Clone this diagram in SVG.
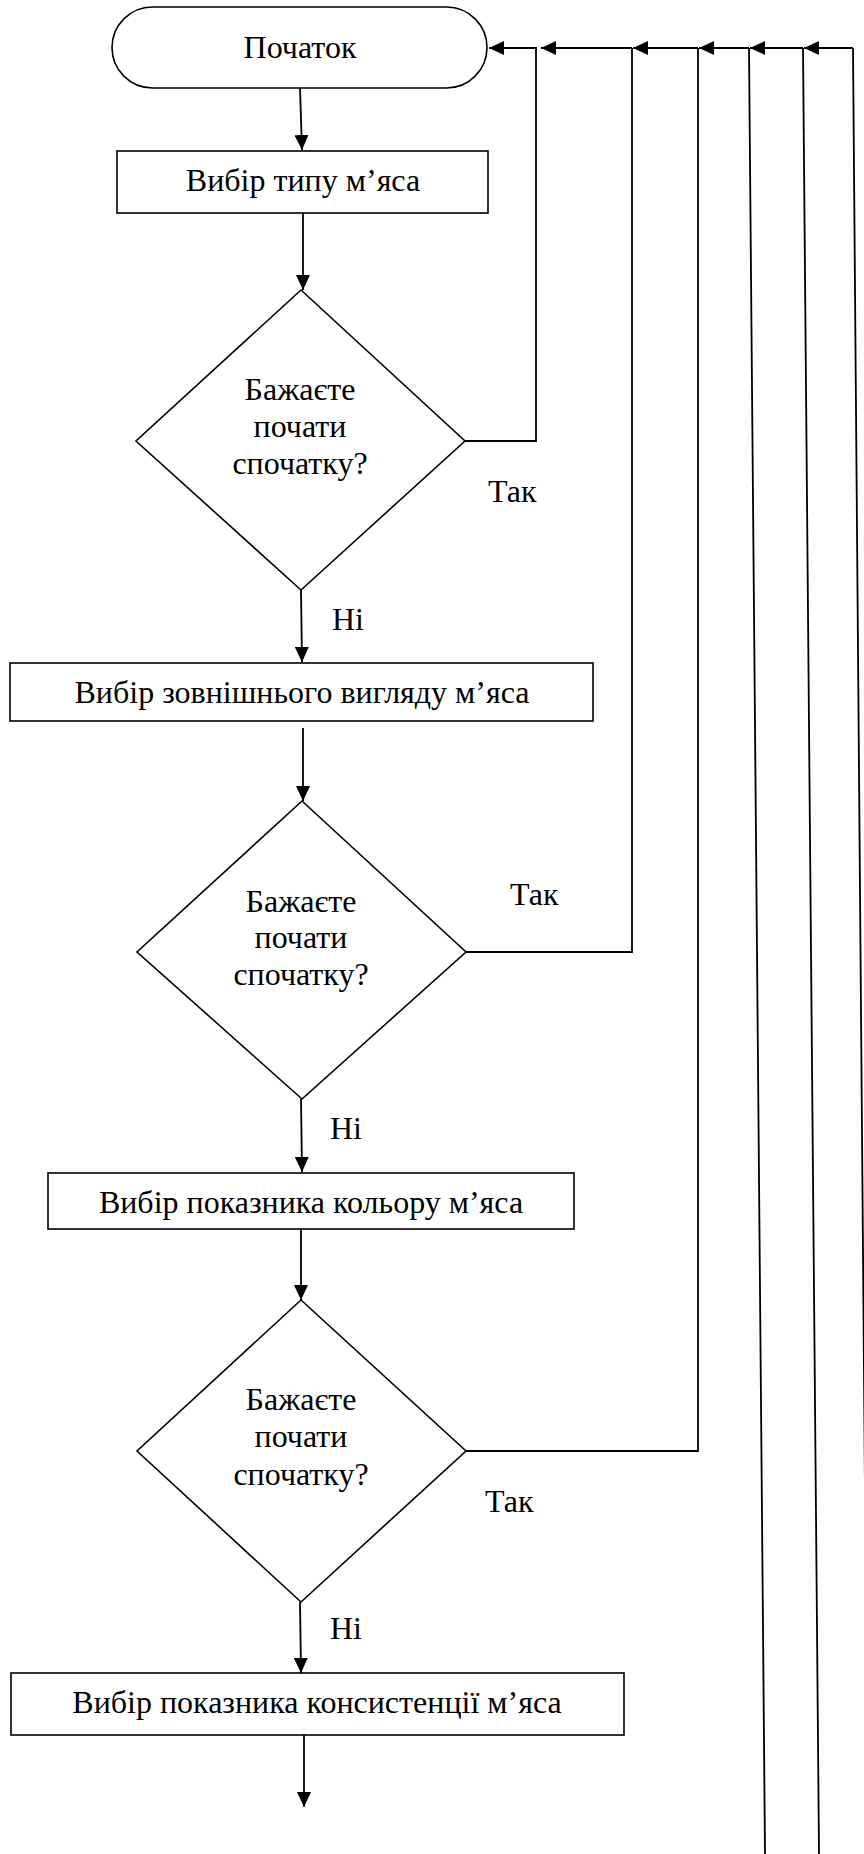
<svg xmlns="http://www.w3.org/2000/svg" width="864" height="1854" viewBox="0 0 864 1854" font-family="Liberation Serif, Tinos, DejaVu Serif, serif" font-size="32">
<defs>
<marker id="ah" markerUnits="userSpaceOnUse" markerWidth="15" markerHeight="14" refX="15" refY="7" orient="auto">
<path d="M0,0 L15,7 L0,14 z" fill="#000"/>
</marker>
</defs>
<style>
.s{fill:#fff;stroke:#000;stroke-width:1.6}
.m{text-anchor:middle}
.c{fill:none;stroke:#000;stroke-width:1.8}
.a{marker-end:url(#ah)}
</style>
<rect width="864" height="1854" fill="#fff"/>
<g id="connectors">
<line class="c a" x1="300" y1="88" x2="302" y2="150"/>
<line class="c a" x1="303" y1="213" x2="303" y2="290"/>
<line class="c a" x1="301" y1="590" x2="302" y2="662"/>
<line class="c a" x1="303" y1="728" x2="303" y2="801"/>
<line class="c a" x1="301" y1="1099" x2="302" y2="1172"/>
<line class="c a" x1="301" y1="1229" x2="301" y2="1300"/>
<line class="c a" x1="300" y1="1602" x2="301" y2="1673"/>
<line class="c a" x1="304" y1="1735" x2="304" y2="1807"/>
<polyline class="c a" points="465,441 536,441 536,48 489,48"/>
<polyline class="c" points="466,952 632,952 632,48"/>
<polyline class="c" points="466,1451 698,1451 698,48"/>
<line class="c" x1="749" y1="48" x2="765" y2="1854"/>
<line class="c" x1="803" y1="48" x2="819" y2="1854"/>
<line class="c" x1="853" y1="48" x2="868" y2="1854"/>
<line class="c a" x1="853" y1="48" x2="804" y2="48"/>
<line class="c a" x1="803" y1="48" x2="750" y2="48"/>
<line class="c a" x1="749" y1="48" x2="699" y2="48"/>
<line class="c a" x1="698" y1="48" x2="633" y2="48"/>
<line class="c a" x1="632" y1="48" x2="541" y2="48"/>
</g>
<g id="start">
<rect class="s" x="112" y="7" width="375" height="81" rx="40.5" ry="40.5"/>
<text class="m" x="300" y="58">Початок</text>
</g>
<g id="step1">
<rect class="s" x="117" y="151" width="371" height="62"/>
<text class="m" x="303" y="191">Вибір типу м’яса</text>
</g>
<g id="decision1">
<polygon class="s" points="301,290 465,441 301,590 136,441"/>
<text class="m" x="300" y="400">Бажаєте</text>
<text class="m" x="300" y="437">почати</text>
<text class="m" x="300" y="474">спочатку?</text>
<text x="488" y="502">Так</text>
<text x="332" y="630">Ні</text>
</g>
<g id="step2">
<rect class="s" x="10" y="663" width="583" height="58"/>
<text class="m" x="302" y="703">Вибір зовнішнього вигляду м’яса</text>
</g>
<g id="decision2">
<polygon class="s" points="302,801 466,952 302,1099 137,952"/>
<text class="m" x="301" y="912">Бажаєте</text>
<text class="m" x="301" y="948">почати</text>
<text class="m" x="301" y="985">спочатку?</text>
<text x="510" y="905">Так</text>
<text x="330" y="1139">Ні</text>
</g>
<g id="step3">
<rect class="s" x="48" y="1173" width="526" height="56"/>
<text class="m" x="311" y="1213">Вибір показника кольору м’яса</text>
</g>
<g id="decision3">
<polygon class="s" points="301,1300 466,1451 301,1602 137,1451"/>
<text class="m" x="301" y="1410">Бажаєте</text>
<text class="m" x="301" y="1447">почати</text>
<text class="m" x="301" y="1485">спочатку?</text>
<text x="485" y="1512">Так</text>
<text x="330" y="1639">Ні</text>
</g>
<g id="step4">
<rect class="s" x="11" y="1673" width="613" height="62"/>
<text class="m" x="317" y="1713">Вибір показника консистенції м’яса</text>
</g>
</svg>
